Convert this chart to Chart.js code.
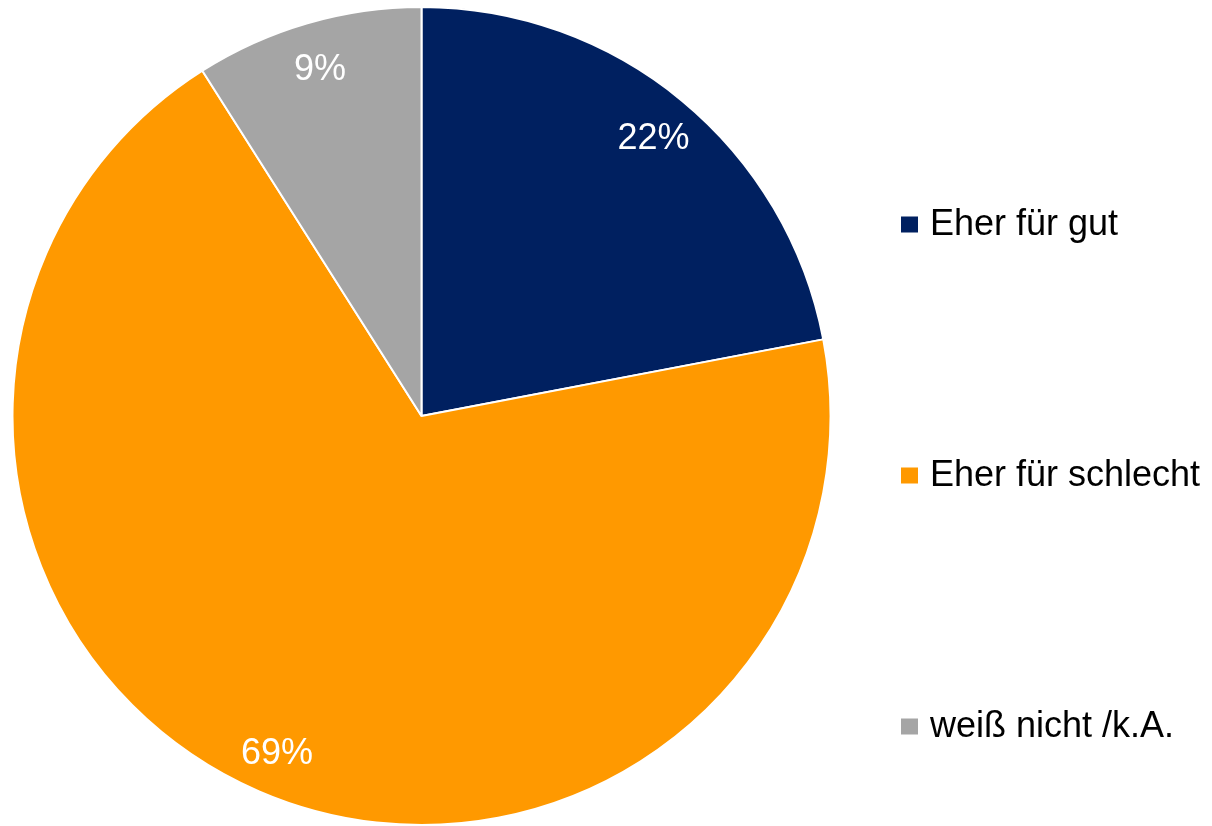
<!DOCTYPE html>
<html>
<head>
<meta charset="utf-8">
<script src="https://cdn.jsdelivr.net/npm/chart.js@4.4.0/dist/chart.umd.min.js"></script>
<style>
  html, body { margin: 0; padding: 0; background: #fff; }
  #wrap { width: 1212px; height: 826px; position: relative; }
</style>
</head>
<body>
<div id="wrap"><canvas id="pieChart"></canvas></div>
<script>
const categories = ["Eher für gut", "Eher für schlecht", "weiß nicht /k.A."];
const shares = [22, 69, 9];
const sliceColors = ["#002060", "#FF9900", "#A5A5A5"];

const FONT = "'Liberation Sans', Arial, sans-serif";
const FONT_SIZE = 36;

// percent labels inside the slices (digits centred on the anchor point)
const sliceLabels = {
  id: "sliceLabels",
  afterDatasetsDraw(chart) {
    const { ctx } = chart;
    const meta = chart.getDatasetMeta(0);
    ctx.save();
    ctx.font = FONT_SIZE + "px " + FONT;
    ctx.fillStyle = "#ffffff";
    ctx.textAlign = "center";
    ctx.textBaseline = "alphabetic";
    meta.data.forEach((arc, i) => {
      const { x, y, startAngle, endAngle, outerRadius } = arc.getProps(["x", "y", "startAngle", "endAngle", "outerRadius"], true);
      const mid = (startAngle + endAngle) / 2;
      const r = outerRadius * 0.89;
      const lx = x + Math.cos(mid) * r;
      const ly = y + Math.sin(mid) * r;
      ctx.fillText(shares[i] + "%", lx, ly + FONT_SIZE * 0.358 + 1);
    });
    ctx.restore();
  }
};

// legend on the right, items spread down the height
const sideLegend = {
  id: "sideLegend",
  afterDraw(chart) {
    const { ctx } = chart;
    const boxX = 901, box = 16, textX = 930;
    const firstBaseline = 235, step = 251;
    ctx.save();
    ctx.font = FONT_SIZE + "px " + FONT;
    ctx.textBaseline = "alphabetic";
    categories.forEach((name, i) => {
      const base = firstBaseline + i * step;
      ctx.fillStyle = sliceColors[i];
      ctx.fillRect(boxX, base - 10.5 - box / 2, box + 1, box);
      ctx.fillStyle = "#000000";
      ctx.fillText(name, textX, base);
    });
    ctx.restore();
  }
};

new Chart(document.getElementById("pieChart"), {
  type: "pie",
  data: {
    labels: categories,
    datasets: [{
      data: shares,
      backgroundColor: sliceColors,
      borderColor: "#ffffff",
      borderWidth: 2
    }]
  },
  options: {
    responsive: true,
    maintainAspectRatio: false,
    animation: false,
    layout: { padding: { left: 11, top: 6, right: 380, bottom: 0 } },
    plugins: {
      legend: { display: false },
      tooltip: { enabled: false }
    }
  },
  plugins: [sliceLabels, sideLegend]
});
</script>
</body>
</html>
